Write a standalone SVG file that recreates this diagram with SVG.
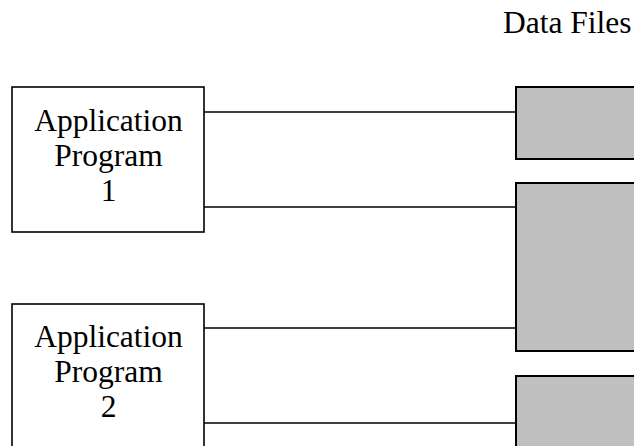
<svg xmlns="http://www.w3.org/2000/svg" width="634" height="446" viewBox="0 0 634 446">
<style>
.prog{fill:#fff;stroke:#000;stroke-width:1.6}
.file{fill:#c0c0c0;stroke:#000;stroke-width:2}
.lbl{font-family:"Liberation Serif","Times New Roman",serif;font-size:31.5px;fill:#000}
.conn line{stroke:#000;stroke-width:1.5}
</style>
<rect width="634" height="446" fill="#fff"/>
<text id="title" class="lbl" x="503" y="33">Data Files</text>
<g id="prog1">
<rect class="prog" x="12" y="87" width="192" height="145"/>
<text class="lbl" text-anchor="middle" x="108.5" y="130.5">Application</text>
<text class="lbl" text-anchor="middle" x="108.5" y="165.5">Program</text>
<text class="lbl" text-anchor="middle" x="108.5" y="201">1</text>
</g>
<g id="prog2">
<rect class="prog" x="12" y="304" width="192" height="160"/>
<text class="lbl" text-anchor="middle" x="108.5" y="346.5">Application</text>
<text class="lbl" text-anchor="middle" x="108.5" y="381.5">Program</text>
<text class="lbl" text-anchor="middle" x="108.5" y="417">2</text>
</g>
<g id="file1"><rect class="file" x="516" y="87" width="130" height="72"/></g>
<g id="file2"><rect class="file" x="516" y="183" width="130" height="168"/></g>
<g id="file3"><rect class="file" x="516" y="376" width="130" height="90"/></g>
<g id="connectors" class="conn">
<line x1="204" y1="112" x2="516" y2="112"/>
<line x1="204" y1="207" x2="516" y2="207"/>
<line x1="204" y1="328" x2="516" y2="328"/>
<line x1="204" y1="423" x2="516" y2="423"/>
</g>
</svg>
